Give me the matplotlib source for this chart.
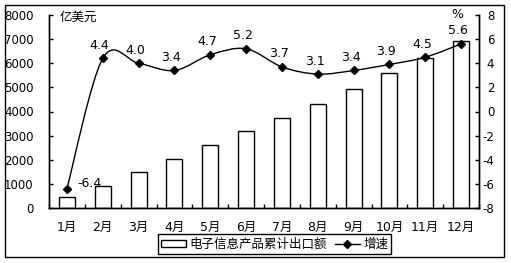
import matplotlib
matplotlib.use("Agg")
import matplotlib.pyplot as plt
import numpy as np
from matplotlib.path import Path
from matplotlib.patches import PathPatch, Rectangle, Patch
from matplotlib.lines import Line2D

plt.rcParams['font.family'] = ['DejaVu Sans', 'Noto Sans CJK SC']
plt.rcParams['axes.unicode_minus'] = False

months = ['1月', '2月', '3月', '4月', '5月', '6月',
          '7月', '8月', '9月', '10月', '11月', '12月']
export_total = [460, 920, 1500, 2040, 2620, 3200,
                3750, 4330, 4950, 5580, 6220, 6930]
growth = [-6.4, 4.4, 4.0, 3.4, 4.7, 5.2, 3.7, 3.1, 3.4, 3.9, 4.5, 5.6]

W, H = 511, 263
fig = plt.figure(figsize=(W / 100, H / 100), dpi=100)
ax = fig.add_axes([49 / W, 1 - 208 / H, 430 / W, 193 / H])
ax2 = ax.twinx()

x = np.arange(len(months))
ax.bar(x, export_total, width=0.45, color='white', edgecolor='black',
       linewidth=1.0, zorder=2)
ax.set_xlim(-0.5, len(months) - 0.5)
ax.set_ylim(0, 8000)
ax.set_yticks(range(0, 8001, 1000))
ax.set_xticks(x)
ax.set_xticklabels(months, fontsize=9)
ax.set_xticks(np.arange(-0.5, len(months)), minor=True)
ax.tick_params(axis='x', which='major', length=0, pad=9)
ax.tick_params(axis='x', which='minor', direction='in', length=3, width=1)
ax.tick_params(axis='y', direction='in', length=3, width=1, labelsize=8.5, pad=11)
ax.spines['top'].set_visible(False)

# smoothed growth line (Catmull-Rom as Bezier)
pts = np.column_stack([x, growth]).astype(float)
ext = np.vstack([pts[0], pts, pts[-1]])
verts = [tuple(pts[0])]
codes = [Path.MOVETO]
for i in range(len(pts) - 1):
    p0, p1, p2, p3 = ext[i], ext[i + 1], ext[i + 2], ext[i + 3]
    c1 = p1 + (p2 - p0) / 6
    c2 = p2 - (p3 - p1) / 6
    verts += [tuple(c1), tuple(c2), tuple(p2)]
    codes += [Path.CURVE4] * 3
ax2.add_patch(PathPatch(Path(verts, codes), fill=False, edgecolor='black',
                        linewidth=1.0, zorder=3))
ax2.plot(x, growth, linestyle='none', marker='D', markersize=4.5,
         color='black', zorder=4)
for i, v in enumerate(growth):
    if i == 0:
        ax2.annotate(f'{v:.1f}', (i, v), xytext=(10, 5), textcoords='offset pixels',
                     ha='left', va='center', fontsize=9)
    else:
        ax2.annotate(f'{v:.1f}', (i, v), xytext=(-3, 13), textcoords='offset pixels',
                     ha='center', va='center', fontsize=9)

ax2.set_ylim(-8, 8)
ax2.set_yticks(range(-8, 9, 2))
ax2.tick_params(axis='y', direction='in', length=3, width=1, labelsize=8.5, pad=11)
for tick in ax2.yaxis.get_major_ticks():
    tick.label2.set_horizontalalignment('right')
ax2.spines['top'].set_visible(False)
for a in (ax, ax2):
    for s in ['left', 'right', 'bottom']:
        a.spines[s].set_linewidth(1.0)

fig.text(60 / W, 1 - 17 / H, '亿美元', fontsize=9, ha='left', va='center')
fig.text(457 / W, 1 - 15 / H, '%', fontsize=9, ha='center', va='center')

handles = [Patch(facecolor='white', edgecolor='black', linewidth=1.0),
           Line2D([], [], color='black', marker='D', markersize=4.5, linewidth=1.0)]
leg = fig.legend(handles, ['电子信息产品累计出口额', '增速'], loc='center',
                 bbox_to_anchor=(274.5 / W, 1 - 244 / H), ncol=2, fontsize=9,
                 frameon=True, fancybox=False, edgecolor='black', framealpha=1,
                 handlelength=2.0, handleheight=0.5, handletextpad=0.3,
                 columnspacing=0.6, borderpad=0.25, borderaxespad=0)
leg.get_frame().set_linewidth(1.0)

fig.patches.append(Rectangle((5 / W, 1 - 257 / H), 499 / W, 252 / H,
                             transform=fig.transFigure, fill=False,
                             edgecolor='black', linewidth=1.0))

fig.savefig('out.png', dpi=100)
